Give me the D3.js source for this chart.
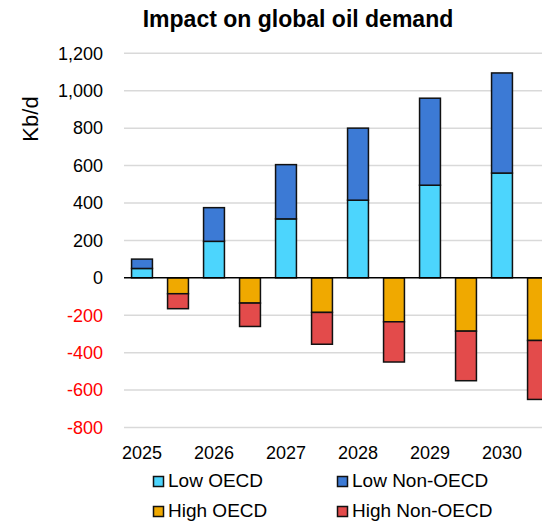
<!DOCTYPE html>
<html>
<head>
<meta charset="utf-8">
<script src="https://cdn.jsdelivr.net/npm/d3@7"></script>
<style>
  body { margin: 0; background: #fff; }
  svg { display: block; overflow: hidden; font-family: "Liberation Sans", Arial, sans-serif; }
</style>
</head>
<body>
<svg id="chart"></svg>
<script>
// données (kb/d)
const years = ["2025", "2026", "2027", "2028", "2029", "2030"];
const lowOECD = [50, 195, 315, 415, 495, 560];
const lowNonOECD = [50, 180, 290, 385, 465, 535];
const highOECD = [-85, -135, -185, -235, -285, -335];
const highNonOECD = [-80, -125, -170, -215, -265, -315];
const yTicks = [-800, -600, -400, -200, 0, 200, 400, 600, 800, 1000, 1200];
const seriesNames = ["Low OECD", "Low Non-OECD", "High OECD", "High Non-OECD"];
const seriesColors = ["#4cd5fd", "#3c7ad5", "#f0a900", "#e34b4b"];

const width = 542;
const height = 521;
const svg = d3.select("#chart").attr("width", width).attr("height", height);

// 12 emplacements : low puis high pour chaque année
const slots = years.flatMap(y => [y + "-low", y + "-high"]);
const x = d3.scaleBand().domain(slots).range([124, 556]).paddingInner(0.42).paddingOuter(0.21);
const y = d3.scaleLinear().domain([-800, 1200]).range([427.5, 53.3]);

// grille
svg.append("g").selectAll("line").data(yTicks.filter(d => d !== 0)).enter().append("line")
    .attr("x1", 124).attr("x2", width)
    .attr("y1", d => y(d)).attr("y2", d => y(d))
    .attr("stroke", "#d9d9d9").attr("stroke-width", 1.5);

// étiquettes axe y (tiret simple comme dans Excel)
const fmt = d => d3.format(",")(d).replace("\u2212", "-");
svg.append("g").selectAll("text").data(yTicks).enter().append("text")
    .attr("x", 103).attr("y", d => y(d)).attr("dy", "0.35em")
    .attr("text-anchor", "end")
    .style("font-size", "18px")
    .style("fill", d => d < 0 ? "#ff0000" : "#000")
    .text(d => fmt(d));

// barres empilées
const stackData = [];
years.forEach((yr, i) => {
    stackData.push({ slot: yr + "-low", y0: 0, y1: lowOECD[i], c: seriesColors[0] });
    stackData.push({ slot: yr + "-low", y0: lowOECD[i], y1: lowOECD[i] + lowNonOECD[i], c: seriesColors[1] });
    stackData.push({ slot: yr + "-high", y0: 0, y1: highOECD[i], c: seriesColors[2] });
    stackData.push({ slot: yr + "-high", y0: highOECD[i], y1: highOECD[i] + highNonOECD[i], c: seriesColors[3] });
});

svg.append("g").selectAll("rect").data(stackData).enter().append("rect")
    .attr("x", d => x(d.slot))
    .attr("width", x.bandwidth())
    .attr("y", d => Math.min(y(d.y0), y(d.y1)))
    .attr("height", d => Math.abs(y(d.y0) - y(d.y1)))
    .attr("fill", d => d.c)
    .attr("stroke", "#111").attr("stroke-width", 1.5);

// ligne zéro
svg.append("line")
    .attr("x1", 124).attr("x2", width)
    .attr("y1", y(0)).attr("y2", y(0))
    .attr("stroke", "#000").attr("stroke-width", 1.5);

// années
svg.append("g").selectAll("text").data(years).enter().append("text")
    .attr("x", d => x(d + "-low") + x.bandwidth() / 2)
    .attr("y", 459)
    .attr("text-anchor", "middle")
    .style("font-size", "18px")
    .text(d => d);

// titre
svg.append("text")
    .attr("x", 298).attr("y", 27)
    .attr("text-anchor", "middle")
    .style("font-size", "23px").style("font-weight", "bold")
    .text("Impact on global oil demand");

// titre axe y
svg.append("text")
    .attr("transform", "translate(38,119) rotate(-90)")
    .attr("text-anchor", "middle")
    .style("font-size", "22px")
    .text("Kb/d");

// légende
const legendPos = [[153, 487], [337, 487], [153, 517], [337, 517]];
const legend = svg.append("g").selectAll("g").data(seriesNames).enter().append("g")
    .attr("transform", (d, i) => `translate(${legendPos[i][0]},${legendPos[i][1]})`);
legend.append("rect")
    .attr("x", 0.5).attr("y", -10.5).attr("width", 10).attr("height", 10)
    .attr("fill", (d, i) => seriesColors[i])
    .attr("stroke", "#111").attr("stroke-width", 1.5);
legend.append("text")
    .attr("x", 15).attr("y", 0)
    .style("font-size", "19px")
    .text(d => d);
</script>
</body>
</html>
